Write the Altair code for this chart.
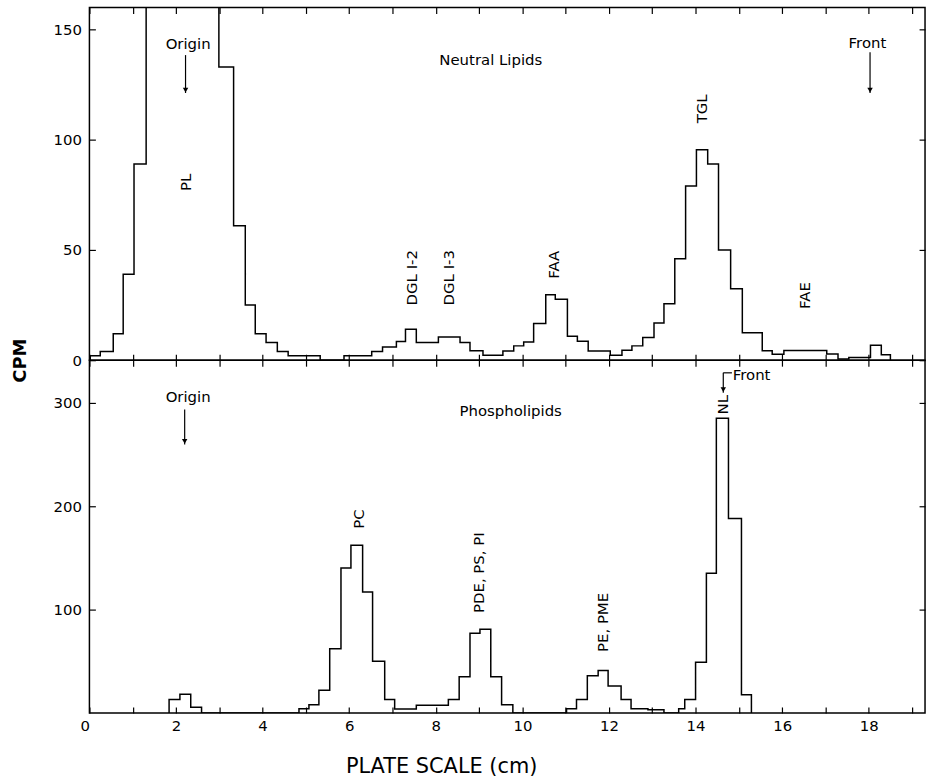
import altair as alt
import pandas as pd

# ---------------- data ----------------
# Neutral lipids (upper panel): left edge of each step (cm) and its CPM level
nl_x = [0.02, 0.25, 0.55, 0.78, 1.03, 1.31, 2.99, 3.33, 3.60, 3.83, 4.08, 4.34, 4.59, 5.33, 5.88,
        6.52, 6.77, 7.09, 7.30, 7.55, 8.06, 8.56, 8.79, 9.09, 9.55, 9.80, 10.03, 10.26, 10.54, 10.76,
        11.04, 11.27, 11.52, 12.03, 12.30, 12.53, 12.78, 13.04, 13.27, 13.52, 13.77, 14.02, 14.28,
        14.53, 14.81, 15.08, 15.54, 15.77, 16.04, 17.03, 17.29, 17.54, 18.04, 18.29, 18.50]
nl_cpm = [2, 4, 12, 39, 89, 300, 133, 61, 25, 12, 8, 4, 2, 0, 2,
          4, 6, 8.5, 14, 8, 10.5, 8, 4.3, 2.3, 4.2, 6.5, 8.3, 16.6, 29.7, 27.6,
          10.9, 8.6, 4.2, 2.3, 4.5, 6.5, 10.3, 16.9, 25.6, 46, 79, 95.5, 89,
          50, 32.4, 12.5, 4.3, 2.7, 4.4, 2.8, 0.5, 1.2, 6.8, 2.5, 0]

# Phospholipids (lower panel)
pl_x = [1.84, 2.09, 2.34, 2.59, 4.84, 5.07, 5.30, 5.55, 5.81, 6.04, 6.31, 6.54, 6.82, 7.05, 7.55,
        8.29, 8.54, 8.79, 9.02, 9.27, 9.52, 9.78, 11.02, 11.25, 11.50, 11.75, 11.98, 12.28, 12.51,
        12.90, 13.27, 13.61, 13.75, 14.00, 14.25, 14.48, 14.76, 15.06, 15.29]
pl_cpm = [13, 18, 5.5, 0, 4, 8, 22, 62, 140, 162, 117, 50, 13, 3.8, 7.4,
          13, 35, 77, 81, 35, 8, 0, 4, 13, 36, 41, 26, 13, 4,
          3, 0, 4, 13, 49, 135, 285, 188, 17.6, 0]

# tick values
x_ticks = list(range(0, 20))
top_y_ticks = [0, 50, 100, 150]
bot_y_ticks = [100, 200, 300]

# annotations (data coordinates)
top_text = ["Origin", "Neutral Lipids", "Front"]
top_text_x = [2.28, 9.27, 17.97]
top_text_y = [143.3, 136.1, 143.8]
top_rot = ["PL", "DGL I-2", "DGL I-3", "FAA", "TGL", "FAE"]
top_rot_x = [2.23, 7.44, 8.31, 10.72, 14.16, 16.53]
top_rot_y = [80.7, 37.4, 37.4, 43.3, 114, 29.3]
top_arrow_x = [2.22, 18.03]
top_arrow_from = [138.4, 139.7]
top_arrow_to = [121.2, 121.2]

bot_text = ["Origin", "Phospholipids"]
bot_text_x = [2.28, 9.73]
bot_text_y = [305.3, 292.3]
bot_front = ["Front"]
bot_front_x = [14.86]
bot_front_y = [326.9]
bot_rot = ["PC", "PDE, PS, PI", "PE, PME", "NL"]
bot_rot_x = [6.22, 9.0, 11.87, 14.64]
bot_rot_y = [187.5, 135.6, 87.5, 298]
bot_arrow_x = [2.2, 14.64]
bot_arrow_from = [293.3, 328.8]
bot_arrow_to = [259.6, 309.6]
bot_bracket_x = [14.64]
bot_bracket_x2 = [14.84]
bot_bracket_y = [328.8]

# ---------------- chart ----------------
FONT = "DejaVu Sans"
W, H = 841, 355
X_DOMAIN = [0, 19.3]


def step_frame(xs, vs):
    rows = [{"x": xs[0], "cpm": 0, "i": 0}]
    for i, (x, v) in enumerate(zip(xs, vs)):
        rows.append({"x": x, "cpm": v, "i": i + 1})
    return pd.DataFrame(rows)


def panel(xs, vs, ymax, yticks, texts, rots, arrows, bottom_labels, y_title, extra=None):
    xs_ = alt.Scale(domain=X_DOMAIN, nice=False, zero=False)
    ys_ = alt.Scale(domain=[0, ymax], nice=False)
    df = step_frame(xs, vs)

    if bottom_labels:
        xb = alt.Axis(orient="bottom", values=x_ticks, offset=-6, tickSize=6, domain=False,
                      grid=False, labelFontSize=15, labelPadding=6, labelOverlap=False,
                      labelExpr="datum.value % 2 == 0 ? datum.label : ''",
                      labelAlign={"condition": {"test": "datum.value == 0", "value": "right"},
                                  "value": "center"},
                      title="PLATE SCALE (cm)", titleFontSize=21, titleFontWeight="normal",
                      titleX=354, titleY=49, titleBaseline="top", titleAlign="center",
                      minExtent=0)
    else:
        xb = alt.Axis(orient="bottom", values=x_ticks, offset=-6, tickSize=6, domain=False,
                      grid=False, labels=False, title=None, minExtent=0, maxExtent=0)
    if y_title:
        yl = alt.Axis(orient="left", values=yticks, offset=-6, tickSize=6, domain=False,
                      grid=False, labelFontSize=15, labelPadding=8,
                      title=y_title, titleFontSize=18, titleFontWeight="bold",
                      titleX=-75, titleY=H, titleAngle=270, titleAlign="center",
                      titleBaseline="middle")
    else:
        yl = alt.Axis(orient="left", values=yticks, offset=-6, tickSize=6, domain=False,
                      grid=False, labelFontSize=15, labelPadding=8, title=None)

    line = alt.Chart(df).mark_line(interpolate="step-after", color="black",
                                   strokeWidth=1.5, clip=True).encode(
        x=alt.X("x:Q", scale=xs_, axis=xb),
        y=alt.Y("cpm:Q", scale=ys_, axis=yl),
        order="i:O",
    )
    ghost = alt.Chart(df).mark_line(strokeOpacity=0, clip=True).encode(
        x=alt.X("x:Q", scale=xs_, axis=alt.Axis(orient="top", values=x_ticks, offset=-6,
                                                  tickSize=6, domain=False, grid=False,
                                                  labels=False, title=None, minExtent=0,
                                                  maxExtent=0)),
        y=alt.Y("cpm:Q", scale=ys_, axis=alt.Axis(orient="right", values=yticks, offset=-6,
                                                    tickSize=6, domain=False, grid=False,
                                                    labels=False, title=None, minExtent=0,
                                                    maxExtent=0)),
        order="i:O",
    )

    t_df = pd.DataFrame({"label": texts[0], "x": texts[1], "y": texts[2]})
    r_df = pd.DataFrame({"label": rots[0], "x": rots[1], "y": rots[2]})
    a_df = pd.DataFrame({"x": arrows[0], "y": arrows[1], "y2": arrows[2]})

    txt = alt.Chart(t_df).mark_text(font=FONT, fontSize=15, color="black", align="center",
                                    baseline="middle").encode(
        x=alt.X("x:Q", scale=xs_, axis=None), y=alt.Y("y:Q", scale=ys_, axis=None),
        text="label:N")
    rot = alt.Chart(r_df).mark_text(font=FONT, fontSize=15, color="black", align="center",
                                    baseline="middle", angle=270).encode(
        x=alt.X("x:Q", scale=xs_, axis=None), y=alt.Y("y:Q", scale=ys_, axis=None),
        text="label:N")
    rule = alt.Chart(a_df).mark_rule(color="black", strokeWidth=1.2).encode(
        x=alt.X("x:Q", scale=xs_, axis=None), y=alt.Y("y:Q", scale=ys_, axis=None),
        y2="y2:Q")
    head = alt.Chart(a_df).mark_point(shape="triangle-down", filled=True, color="black",
                                      opacity=1, size=30).encode(
        x=alt.X("x:Q", scale=xs_, axis=None), y=alt.Y("y2:Q", scale=ys_, axis=None),
        yOffset=alt.value(-3))

    layers = [line, ghost, txt, rot, rule, head]
    if extra is not None:
        layers += extra(xs_, ys_)
    return alt.layer(*layers).resolve_axis(x="independent", y="independent").properties(
        width=W, height=H)


def bottom_extra(xs_, ys_):
    f_df = pd.DataFrame({"label": bot_front, "x": bot_front_x, "y": bot_front_y})
    b_df = pd.DataFrame({"x": bot_bracket_x, "x2": bot_bracket_x2, "y": bot_bracket_y})
    ftxt = alt.Chart(f_df).mark_text(font=FONT, fontSize=15, color="black", align="left",
                                     baseline="middle").encode(
        x=alt.X("x:Q", scale=xs_, axis=None), y=alt.Y("y:Q", scale=ys_, axis=None),
        text="label:N")
    br = alt.Chart(b_df).mark_rule(color="black", strokeWidth=1.2).encode(
        x=alt.X("x:Q", scale=xs_, axis=None), x2="x2:Q",
        y=alt.Y("y:Q", scale=ys_, axis=None))
    return [ftxt, br]


top = panel(nl_x, nl_cpm, 160, top_y_ticks,
            (top_text, top_text_x, top_text_y), (top_rot, top_rot_x, top_rot_y),
            (top_arrow_x, top_arrow_from, top_arrow_to), False, "CPM")
bottom = panel(pl_x, pl_cpm, 341, bot_y_ticks,
               (bot_text, bot_text_x, bot_text_y), (bot_rot, bot_rot_x, bot_rot_y),
               (bot_arrow_x, bot_arrow_from, bot_arrow_to), True, None, extra=bottom_extra)

chart = alt.vconcat(top, bottom, spacing=0, bounds="flush").properties(
    padding={"left": 11, "top": 3, "right": 3, "bottom": 5},
    background="white",
).configure_view(stroke="black", strokeWidth=1.5).configure_axis(
    labelFont=FONT, titleFont=FONT, labelColor="black", titleColor="black",
    tickColor="black", tickWidth=1.2,
)

chart.save("out.html", embed_options={"renderer": "svg", "actions": False})
